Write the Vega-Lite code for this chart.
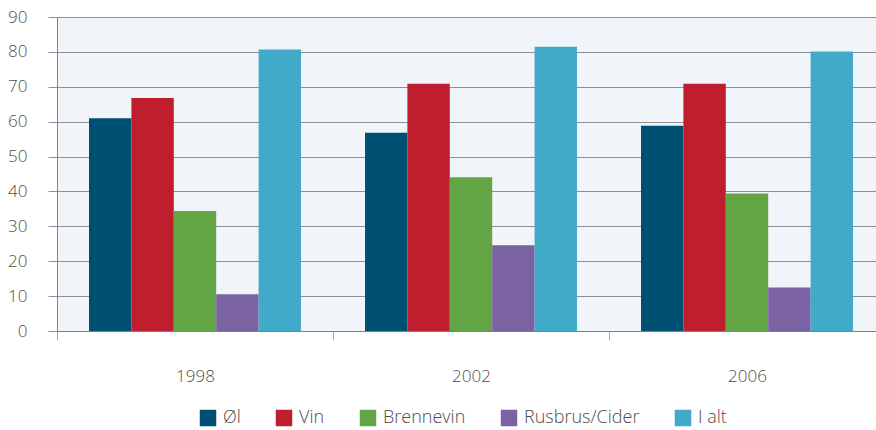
{
  "$schema": "https://vega.github.io/schema/vega-lite/v6.json",
  "width": 819,
  "height": 314,
  "autosize": {"type": "none"},
  "padding": {"left": 57, "top": 17, "right": 0, "bottom": 99},
  "background": "#ffffff",
  "config": {
    "view": {"fill": "#f1f4f8", "stroke": null},
    "font": "Open Sans"
  },
  "data": {
    "values": [
      {"year": "1998", "type": "Øl", "value": 61.0},
      {"year": "1998", "type": "Vin", "value": 66.8},
      {"year": "1998", "type": "Brennevin", "value": 34.4},
      {"year": "1998", "type": "Rusbrus/Cider", "value": 10.5},
      {"year": "1998", "type": "I alt", "value": 80.7},
      {"year": "2002", "type": "Øl", "value": 56.8},
      {"year": "2002", "type": "Vin", "value": 70.9},
      {"year": "2002", "type": "Brennevin", "value": 44.1},
      {"year": "2002", "type": "Rusbrus/Cider", "value": 24.6},
      {"year": "2002", "type": "I alt", "value": 81.5},
      {"year": "2006", "type": "Øl", "value": 58.8},
      {"year": "2006", "type": "Vin", "value": 70.9},
      {"year": "2006", "type": "Brennevin", "value": 39.4},
      {"year": "2006", "type": "Rusbrus/Cider", "value": 12.5},
      {"year": "2006", "type": "I alt", "value": 80.1}
    ]
  },
  "mark": {"type": "bar"},
  "encoding": {
    "x": {
      "field": "year",
      "type": "nominal",
      "scale": {"range": [0, 828], "paddingInner": 0, "paddingOuter": 0},
      "axis": {
        "title": null,
        "labelAngle": 0,
        "tickBand": "extent",
        "tickSize": 9,
        "tickColor": "#a8abaf",
        "domainColor": "#7d8084",
        "labelPadding": 28,
        "labelFontSize": 17,
        "labelFontWeight": 300,
        "labelColor": "#4d4d4d",
        "grid": false
      }
    },
    "xOffset": {
      "field": "type",
      "type": "nominal",
      "sort": ["Øl", "Vin", "Brennevin", "Rusbrus/Cider", "I alt"],
      "scale": {"paddingInner": 0, "paddingOuter": 0.755}
    },
    "y": {
      "field": "value",
      "type": "quantitative",
      "scale": {"domain": [0, 90], "nice": false},
      "axis": {
        "title": null,
        "values": [0, 10, 20, 30, 40, 50, 60, 70, 80, 90],
        "tickSize": 9,
        "tickColor": "#8c8f93",
        "gridColor": "#8c8f93",
        "domainColor": "#7d8084",
        "labelPadding": 21,
        "labelFontSize": 17,
        "labelFontWeight": 300,
        "labelColor": "#4d4d4d"
      }
    },
    "color": {
      "field": "type",
      "type": "nominal",
      "sort": ["Øl", "Vin", "Brennevin", "Rusbrus/Cider", "I alt"],
      "scale": {
        "domain": ["Øl", "Vin", "Brennevin", "Rusbrus/Cider", "I alt"],
        "range": ["#005073", "#be1e2d", "#63a545", "#7b62a3", "#41aac8"]
      },
      "legend": {
        "title": null,
        "orient": "none",
        "legendX": 142,
        "legendY": 392,
        "direction": "horizontal",
        "symbolType": "square",
        "symbolSize": 272,
        "symbolStrokeWidth": 0,
        "symbolOpacity": 1,
        "labelFontSize": 18,
        "labelFontWeight": 300,
        "labelColor": "#4d4d4d",
        "labelOffset": 6,
        "columnPadding": 34
      }
    }
  }
}
